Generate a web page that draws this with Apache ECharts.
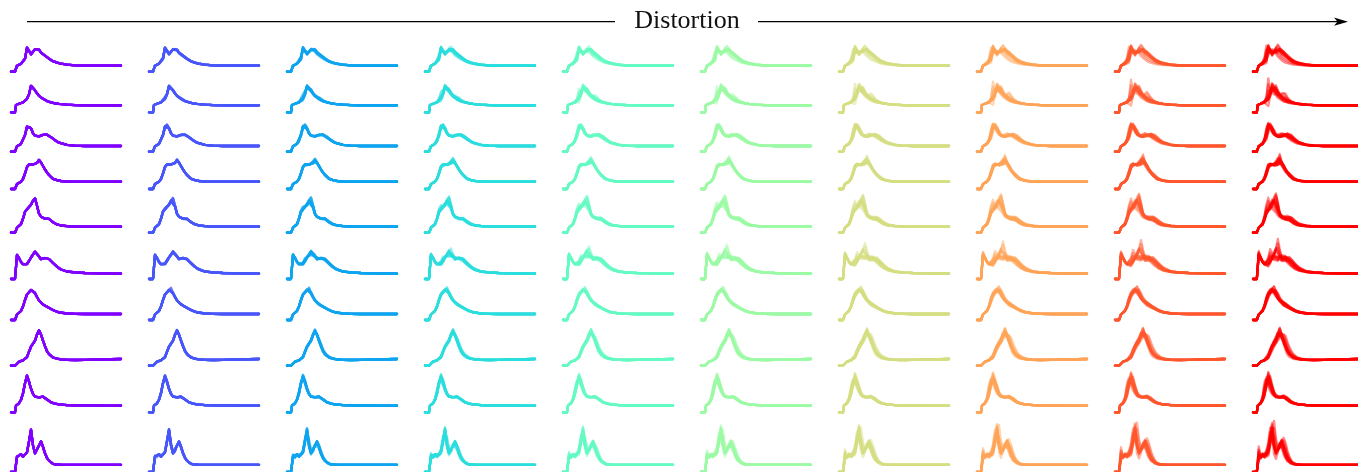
<!DOCTYPE html>
<html><head><meta charset="utf-8">
<script src="https://cdn.jsdelivr.net/npm/echarts@6/dist/echarts.min.js"></script>
<style>html,body{margin:0;padding:0;background:#fff}#c{width:1358px;height:472px}</style>
</head><body><div id="c"></div>
<script>
// ---------------- DATA ----------------
const xSamples = [0,4,5,6,8,10,12,14,16,18,20,22,24,26,28,30,32,34,36,38,40,42,44,46,48,50,56,64,74,90,110];
const distortionLevels = [0,0.12,0.25,0.37,0.5,0.62,0.74,0.84,0.93,1.0];
const variantWeights = [1,0.7,0.4,-0.35];
const headerLabel = 'Distortion';

const row0Base = [0,0,0,6, 7,8,9.5,13,24,21,17.5,19.5,22.5,24,22,19,17.5,16,15,13,11.5,10.5,9.5,9,8.5,8, 7,6.3,6,6,6];
const row0V1   = [0,0,0,6, 8,10,14,26,20,18,22,21,18,15,13,11.5,10,9,8.5,8,7.5,7.2,7,6.8,6.6,6.5, 6.2,6,6,6,6];
const row0V2   = [0,0,0,6, 7,8,9,11,16,22,19,18,19,21,23,22,20,18,16,14,12.5,11,10,9,8.5,8, 7.2,6.5,6,6,6];
const row0V3   = [0,0,0,6, 7.5,9,12,20,26,22,20,22,20,19,20,22,20,17,14,12,10.5,9.5,8.8,8.2,7.8,7.5, 6.8,6.2,6,6,6];

const row1Base = [0,0,7.3,7.5, 8.5,9.2,10,11.3,13.5,18,26.5,25,22,19,16.5,15,13.5,12.3,11.2,10.5,10,9.5,9,8.7,8.4,8.2, 7.6,7.1,7,7,7];
const row1V1   = [0,0,7.3,7.5, 8.5,9.5,11,15,34,22,19,20,17,14.5,13,12,11,10.3,9.8,9.3,9,8.7,8.4,8.2,8,7.8, 7.4,7.1,7,7,7];
const row1V2   = [0,0,7.3,7.5, 8.5,9.5,11,13,17,24,21,20,27,22,18,16,14.5,13,12,11,10.3,9.8,9.3,9,8.6,8.3, 7.6,7.1,7,7,7];
const row1V3   = [0,0,7.3,7.5, 8.5,9.2,10,11,13,17,23,20,18,17,17,19,21,19,15,12.5,11,10,9.3,8.8,8.4,8.2, 7.6,7.1,7,7,7];

const row2Base = [0,0,0,5.5, 6.5,7.8,9.5,16.7,25,27,23.5,18.5,16,15,15.3,16,16.8,17.3,17,15.8,14.5,13,11.5,10,9,8.3, 6.8,6,5.7,5.7,5.7];
const row2V1   = [0,0,0,5.5, 7,9,13,24,29,24,19,17,16,16.5,18,19,18,16,14,12.5,11,10,9,8.3,7.8,7.4, 6.5,6,5.7,5.7,5.7];
const row2V2   = [0,0,0,5.5, 6.5,7.5,9,12,19,26,27,22,18,16,15,15,15.5,16.5,18,18.5,17,15,13,11,9.8,9, 7.2,6.2,5.7,5.7,5.7];
const row2V3   = [0,0,0,5.5, 6.5,8,11,20,28,25,20,17,15.5,15,15,15.2,15.5,15.5,15,14,13,12,11,10,9,8.3, 6.8,6,5.7,5.7,5.7];

const row3Base = [0,0,0,5, 6.3,7.3,10,15.5,22,24.5,23.5,24.5,25,26,29,26.5,23,19.5,16.5,14,12,10.2,9.5,8.8,8.3,8, 7.5,7.3,7.3,7.3,7.3];
const row3V1   = [0,0,0,5, 6.5,8,12,19,25,24,25,27,26,29,35,27,22,19,17,15,13,11,10,9.2,8.6,8.2, 7.6,7.3,7.3,7.3,7.3];
const row3V2   = [0,0,0,5, 6.5,8,11,17,24,26,24,23,23,24,25,27,24,20,17.5,16,14,12,10.5,9.5,8.8,8.3, 7.6,7.3,7.3,7.3,7.3];
const row3V3   = [0,0,0,5, 6.3,7.5,9.5,14,20,23,24,25,28,31,27,23,20,17,15,13,11.5,10,9.3,8.7,8.3,8, 7.5,7.3,7.3,7.3,7.3];

const row4Base = [0,0,0,5, 6,8.5,14,21,23.5,24.5,28,32,34.3,27,19,16,14.5,14,13.7,13.8,12.5,10.5,9.3,8.3,7.5,7.2, 6.6,6.2,6,6,6];
const row4V1   = [0,0,0,5, 6.5,10,17,28,35,27,24,22,20,17,15,14,13.5,13,12.5,12,11,10,9,8.3,7.7,7.3, 6.7,6.2,6,6,6];
const row4V2   = [0,0,0,5, 6,8,12,18,22,26,30,33,28,22,19,17,16,16.5,17,16.5,15,13.5,12,10.5,9.3,8.5, 7.2,6.4,6,6,6];
const row4V3   = [0,0,0,5, 6,8,13,20,25,28,33,29,24,20,17,15.5,15,15,15.5,16,15.5,14,12,10.5,9,8, 7,6.3,6,6,6];

const row5Base = [0,0,0,24, 21,17,14.8,14,15,18,21.5,24.5,27.3,25,22.5,19.8,19.5,21,21.3,20,18,16,14,12.3,10.8,9.5, 7.5,6.6,6,5.6,5.3];
const row5V1   = [0,0,0,28, 22,17,15,16,22,30,26,20,18,19,23,25,22,19,16,14,12.5,11,10,9,8.3,7.8, 6.8,6.2,5.8,5.5,5.3];
const row5V2   = [0,0,0,24, 21,17,15,14.5,15,17,20,24,30,40,30,22,18,17,18,20,18,15,13,11,9.5,8.7, 7.3,6.5,6,5.6,5.3];
const row5V3   = [0,0,0,26, 22,18,16,17,20,24,22,19,17,18,21,24,26,23,19,16,13.5,11.5,10,9,8.3,7.8, 6.8,6.2,5.8,5.5,5.3];

const row6Base = [0,0,0,5.5, 7,9,13.5,20,25.5,27.5,30,32,27,23,19.5,17.5,15.5,14.3,13.2,12.2,11,10,9,8.3,7.7,7.2, 6.5,6.1,6,6,6];
const row6V1   = [0,0,0,5.5, 7.5,10,15,23,28,31,28,27,24,21,19.5,19,18,16.5,15,13.5,12,11,10,9.2,8.5,8, 7,6.3,6,6,6];
const row6V2   = [0,0,0,5.5, 7,9,12,17,22,26,28,30,31,27,23,20,18,16.5,15,13.5,12,11,10,9,8.3,7.8, 6.8,6.2,6,6,6];
const row6V3   = [0,0,0,5.5, 7,9.5,14,21,26,29,32,28,24,21,19,18,17,16,14.5,13,11.5,10.3,9.3,8.5,7.9,7.4, 6.6,6.1,6,6,6];

const row7Base = [0,0,0,0, 4,4.7,5.3,6.5,8.5,14,19,22,25,31,35.5,31,25,19.5,14.5,11.5,9.5,8.2,7.5,7,6.5,6.3, 5.8,5.7,5.8,6.2,6.7];
const row7V1   = [0,0,0,0, 4,5,6,8,12,17,21,25,29,33,31,27,23,19,15,12,10,8.7,7.8,7.2,6.7,6.4, 5.9,5.7,5.8,6.2,6.7];
const row7V2   = [0,0,0,0, 4,4.7,5.3,6.3,8,11,15,19,22,25,28,32,34,30,24,19,15,12,10,8.7,7.8,7.2, 6.2,5.8,5.8,6.2,6.7];
const row7V3   = [0,0,0,0, 4,5,5.8,7.5,10,15,20,24,27,29,31,33,28,22,17,13.5,11,9.3,8.2,7.5,7,6.6, 6,5.7,5.8,6.2,6.7];

const row8Base = [0,0,6.7,7.5, 9,12.5,19,29,36.7,30.7,23.5,18.5,15.7,15.2,15,15.2,15.6,14.5,12.8,11.5,10,9.2,8.7,8.2,7.9,7.7, 7.2,7,6.8,6.7,6.7];
const row8V1   = [0,0,6.7,7.5, 10,16,30,35,26,21,18,16,15,15,15.5,16,15,13.5,12,10.5,9.5,8.8,8.3,8,7.8,7.6, 7.2,7,6.8,6.7,6.7];
const row8V2   = [0,0,6.7,7.5, 9,12,17,25,33,36,28,21,17.5,16,15.5,16,17,17,15,13,11,9.8,9,8.4,8,7.8, 7.3,7,6.8,6.7,6.7];
const row8V3   = [0,0,6.7,7.5, 9.5,14,24,33,30,25,20,17,15.5,15,14.5,14.5,15,15,14,12.5,11,9.8,9,8.4,8,7.8, 7.3,7,6.8,6.7,6.7];

const row9Base = [0,0,0,15.5, 14.5,18,15.5,17,20,31,43,27,19,21,27,31,25.5,19,14.3,11.5,9.5,8.2,7.8,7.6,7.5,7.4, 7.3,7.3,7.3,7.3,7.3];
const row9V1   = [0,0,0,22, 14,16,18,22,30,45,35,25,20,24,30,25,18,14,11,9.5,8.5,8,7.7,7.5,7.4,7.3, 7.3,7.3,7.3,7.3,7.3];
const row9V2   = [0,0,0,16, 15,17,16,18,22,28,38,52,35,24,22,28,35,30,22,16,12,9.5,8.3,7.8,7.5,7.4, 7.3,7.3,7.3,7.3,7.3];
const row9V3   = [0,0,0,26, 16,15,17,20,26,38,50,30,22,20,24,32,28,20,15,12,10,8.7,8,7.7,7.5,7.4, 7.3,7.3,7.3,7.3,7.3];

// ---------------- LAYOUT / STYLE ----------------
const rowSets = [
  [row0Base,row0V1,row0V2,row0V3],[row1Base,row1V1,row1V2,row1V3],
  [row2Base,row2V1,row2V2,row2V3],[row3Base,row3V1,row3V2,row3V3],
  [row4Base,row4V1,row4V2,row4V3],[row5Base,row5V1,row5V2,row5V3],
  [row6Base,row6V1,row6V2,row6V3],[row7Base,row7V1,row7V2,row7V3],
  [row8Base,row8V1,row8V2,row8V3],[row9Base,row9V1,row9V2,row9V3]
];
const colColors = ['#8000ff','#4757fb','#0ea4f0','#2adddd','#63fbc3','#9cfba4','#d4dd80','#ffa457','#ff572c','#ff0000'];
const rowBottoms = [71.7,112.3,151.7,189,232.7,279,320,365.7,412.3,473];
const CELL_LEFT0 = 11, CELL_STEP = 138, CELL_W = 110, CELL_H = 60;

const grids = [], xAxes = [], yAxes = [], series = [];
let gi = 0;
for (let r = 0; r < 10; r++) {
  const [base, ...vars] = rowSets[r];
  for (let c = 0; c < 10; c++) {
    grids.push({left: CELL_LEFT0 + CELL_STEP * c, top: rowBottoms[r] - CELL_H, width: CELL_W, height: CELL_H});
    xAxes.push({type:'value', min:0, max:110, show:false, gridIndex: gi});
    yAxes.push({type:'value', min:0, max:60, show:false, gridIndex: gi});
    const t = distortionLevels[c];
    const curves = [base];
    vars.forEach(v => variantWeights.forEach(w => {
      curves.push(base.map((b, i) => Math.max(0, b + t * w * (v[i] - b))));
    }));
    curves.forEach(cv => {
      series.push({
        type:'line', xAxisIndex: gi, yAxisIndex: gi, symbol:'none', silent:true,
        clip:false,
        data: cv.map((y, i) => [xSamples[i], y]),
        lineStyle:{color: colColors[c], width: 2.3, opacity: 0.45, join:'round', cap:'round'}
      });
    });
    gi++;
  }
}

const chart = echarts.init(document.getElementById('c'), null, {renderer:'canvas'});
chart.setOption({
  animation:false,
  backgroundColor:'#ffffff',
  grid: grids, xAxis: xAxes, yAxis: yAxes, series: series,
  graphic: [
    {type:'line', shape:{x1:27,y1:21.7,x2:615,y2:21.7}, style:{stroke:'#000',lineWidth:1.3}},
    {type:'line', shape:{x1:758,y1:21.7,x2:1338,y2:21.7}, style:{stroke:'#000',lineWidth:1.3}},
    {type:'polygon', shape:{points:[[1348,21.7],[1334,17.6],[1337.5,21.7],[1334,25.8]]}, style:{fill:'#000'}},
    {type:'text', x:687, y:21, style:{text: headerLabel, font:'26px "Liberation Serif"', fill:'#111', align:'center', verticalAlign:'middle'}}
  ]
});
</script></body></html>
